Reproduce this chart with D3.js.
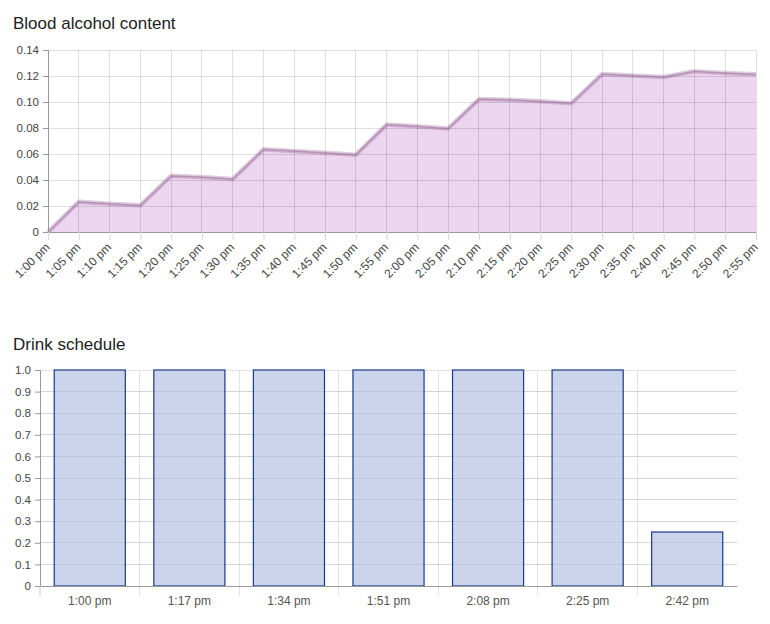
<!DOCTYPE html>
<html><head><meta charset="utf-8">
<script src="https://cdn.jsdelivr.net/npm/d3@7"></script>
<style>
body{margin:0;background:#fff;font-family:"Liberation Sans",Arial,sans-serif;}
svg text{font-family:"Liberation Sans",Arial,sans-serif;}
</style></head><body>
<svg id="c" width="770" height="624"></svg>
<script>
const times = ["1:00 pm","1:05 pm","1:10 pm","1:15 pm","1:20 pm","1:25 pm","1:30 pm","1:35 pm","1:40 pm","1:45 pm","1:50 pm","1:55 pm","2:00 pm","2:05 pm","2:10 pm","2:15 pm","2:20 pm","2:25 pm","2:30 pm","2:35 pm","2:40 pm","2:45 pm","2:50 pm","2:55 pm"];
const bac = [0,0.0233,0.0218,0.0205,0.0433,0.0423,0.0408,0.0636,0.0623,0.061,0.0595,0.0826,0.0813,0.0797,0.1023,0.1018,0.1005,0.099,0.1215,0.1203,0.1192,0.1236,0.1223,0.1213];
const bacTicks = [0,0.02,0.04,0.06,0.08,0.10,0.12,0.14];
const drinkTimes = ["1:00 pm","1:17 pm","1:34 pm","1:51 pm","2:08 pm","2:25 pm","2:42 pm"];
const drinks = [1,1,1,1,1,1,0.25];
const drinkTicks = [0,0.1,0.2,0.3,0.4,0.5,0.6,0.7,0.8,0.9,1.0];

const svg = d3.select("#c");

// ---------- Top chart ----------
const t = {l:48, r:756, t:50, b:232};
const x1 = d3.scalePoint().domain(times).range([t.l, t.r]);
const y1 = d3.scaleLinear().domain([0,0.14]).range([t.b, t.t]);

svg.append("text").attr("x",13).attr("y",29).attr("font-size",17).attr("fill","#222").text("Blood alcohol content");

const g1 = svg.append("g");
g1.append("path").datum(bac)
  .attr("d", d3.area().x((d,i)=>x1(times[i])).y0(y1(0)).y1(d=>y1(d)))
  .attr("fill","#ebd5ef");
// grid
g1.selectAll(".hg").data(bacTicks).join("line")
  .attr("x1",t.l).attr("x2",t.r).attr("y1",d=>y1(d)).attr("y2",d=>y1(d))
  .attr("stroke","rgba(0,0,0,0.12)").attr("stroke-width",1).attr("shape-rendering","crispEdges");
g1.selectAll(".vg").data(times).join("line")
  .attr("x1",d=>x1(d)).attr("x2",d=>x1(d)).attr("y1",t.t).attr("y2",t.b)
  .attr("stroke","rgba(0,0,0,0.12)").attr("stroke-width",1).attr("shape-rendering","crispEdges");
const line1 = d3.line().x((d,i)=>x1(times[i])).y(d=>y1(d));
g1.append("path").datum(bac).attr("d",line1).attr("fill","none")
  .attr("stroke","rgba(140,80,140,0.28)").attr("stroke-width",4.5).attr("stroke-linejoin","round");
g1.append("path").datum(bac).attr("d",line1).attr("fill","none")
  .attr("stroke","rgba(120,70,120,0.35)").attr("stroke-width",1.5);

// y axis
const ya1 = svg.append("g").attr("transform",`translate(${t.l},0)`)
  .call(d3.axisLeft(y1).tickValues(bacTicks).tickFormat(d=>d===0?"0":d3.format(".2f")(d)).tickSizeOuter(0).tickSize(5).tickPadding(4));
ya1.selectAll("text").attr("font-size",11.5).attr("fill","#444");
ya1.select(".domain").attr("stroke","#999");
ya1.selectAll(".tick line").attr("stroke","#999");
// x axis
const xa1 = svg.append("g").attr("transform",`translate(0,${t.b})`)
  .call(d3.axisBottom(x1).tickSizeOuter(0).tickSize(8).tickPadding(0));
xa1.select(".domain").attr("stroke","#999");
xa1.selectAll(".tick line").attr("stroke","#d6d6d6");
xa1.selectAll("text").attr("font-size",12).attr("fill","#444")
  .attr("text-anchor","end").attr("dy","0.35em").attr("y",0)
  .attr("transform","translate(-1,13) rotate(-45)");

// ---------- Bottom chart ----------
const b = {l:40, r:737, t:370, b:586};
const x2 = d3.scaleBand().domain(drinkTimes).range([b.l,b.r]).paddingInner(0.286).paddingOuter(0.143);
const y2 = d3.scaleLinear().domain([0,1]).range([b.b,b.t]);

svg.append("text").attr("x",13).attr("y",350).attr("font-size",17).attr("fill","#222").text("Drink schedule");

const g2 = svg.append("g");
g2.selectAll(".hg").data(drinkTicks).join("line")
  .attr("x1",b.l).attr("x2",b.r).attr("y1",d=>y2(d)).attr("y2",d=>y2(d))
  .attr("stroke","#e2e2e2").attr("shape-rendering","crispEdges");
const step = (b.r-b.l)/drinkTimes.length;
const bounds = d3.range(drinkTimes.length+1).map(i=>b.l+i*step);
g2.selectAll(".vg").data(bounds.slice(1,-1)).join("line")
  .attr("x1",d=>d).attr("x2",d=>d).attr("y1",b.t).attr("y2",b.b+10)
  .attr("stroke","#e2e2e2").attr("shape-rendering","crispEdges");
g2.selectAll("rect").data(drinks).join("rect")
  .attr("x",(d,i)=>x2(drinkTimes[i])).attr("width",x2.bandwidth())
  .attr("y",d=>y2(d)).attr("height",d=>y2(0)-y2(d))
  .attr("fill","#cbd4ea").attr("stroke","#173a8c").attr("stroke-width",1.2);
g2.selectAll(".hg2").data(drinkTicks.slice(1,-1)).join("line")
  .attr("x1",b.l).attr("x2",b.r).attr("y1",d=>y2(d)).attr("y2",d=>y2(d))
  .attr("stroke","rgba(0,0,0,0.06)").attr("shape-rendering","crispEdges");

const ya2 = svg.append("g").attr("transform",`translate(${b.l},0)`)
  .call(d3.axisLeft(y2).tickValues(drinkTicks).tickFormat(d=>d===0?"0":d3.format(".1f")(d)).tickSizeOuter(0).tickSize(5).tickPadding(4));
ya2.selectAll("text").attr("font-size",11.5).attr("fill","#444");
ya2.select(".domain").attr("stroke","#999");
ya2.selectAll(".tick line").attr("stroke","#999");

const xa2 = svg.append("g").attr("transform",`translate(0,${b.b})`)
  .call(d3.axisBottom(x2).tickSize(0).tickSizeOuter(0).tickPadding(10));
xa2.select(".domain").attr("stroke","#999");
xa2.selectAll("text").attr("font-size",12).attr("fill","#555");
svg.append("g").selectAll("line").data([bounds[0]]).join("line")
  .attr("x1",d=>d).attr("x2",d=>d).attr("y1",b.b).attr("y2",b.b+10)
  .attr("stroke","#ccc");
</script>
</body></html>
